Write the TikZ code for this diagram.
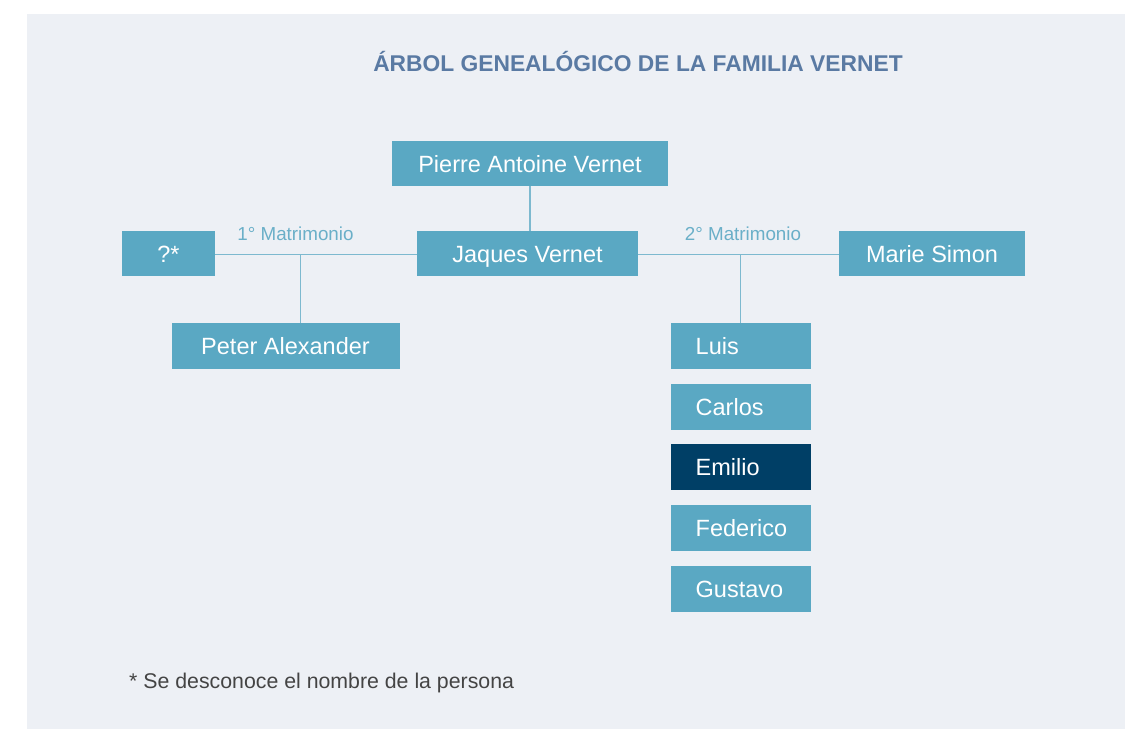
\documentclass[tikz,border=0pt]{standalone}
\usepackage{fontspec}
\setmainfont{Liberation Sans}
\definecolor{panel}{HTML}{EDF0F5}
\definecolor{boxc}{HTML}{5AA8C3}
\definecolor{darkc}{HTML}{003F66}
\definecolor{linec}{HTML}{7DB9CF}
\definecolor{labc}{HTML}{6AAFC8}
\definecolor{titlec}{HTML}{5A7AA3}
\definecolor{footc}{HTML}{444444}
\begin{document}
\begin{tikzpicture}[x=1pt,y=-1pt,
  person/.style={fill=boxc, text=white, inner sep=0pt, minimum height=45.5pt,
    font=\fontsize{23.5}{28}\selectfont, text height=17pt, text depth=0pt},
  child/.style={person, minimum width=140pt, text width=90pt, align=left, inner xsep=25pt},
  link/.style={draw=linec, line width=1.5pt},
  lab/.style={text=labc, inner sep=0pt, anchor=base, font=\fontsize{18.8}{22}\selectfont},
  titlestyle/.style={text=titlec, inner sep=0pt, anchor=base, font=\fontsize{22.8}{27}\selectfont\bfseries},
  foot/.style={text=footc, inner sep=0pt, anchor=base west, font=\fontsize{21.3}{25}\selectfont}]
\useasboundingbox (0,0) rectangle (1125,729);
\fill[panel] (27,14) rectangle (1125,729);

\node[titlestyle] (title) at (638,71) {ÁRBOL GENEALÓGICO DE LA FAMILIA VERNET};

\node[person, minimum width=276pt] (pierre) at (530,163.5) {Pierre Antoine Vernet};
\node[person, minimum width=221pt] (jaques) at (527.5,253.5) {Jaques Vernet};
\node[person, minimum width=93.5pt] (q) at (168.5,253.5) {?*};
\node[person, minimum width=228pt] (peter) at (285.5,346) {Peter Alexander};
\node[person, minimum width=186pt] (marie) at (932,253.5) {Marie Simon};

\node[child] (luis) at (740.7,346) {Luis};
\node[child] (carlos) at (740.7,407) {Carlos};
\node[child, fill=darkc] (emilio) at (740.7,467) {Emilio};
\node[child] (federico) at (740.7,528) {Federico};
\node[child] (gustavo) at (740.7,589) {Gustavo};

\coordinate (m1) at (300.3,254.5);
\coordinate (m2) at (740.7,254.5);

\draw[link] (pierre.south) -- (pierre.south |- jaques.north);
\draw[link] (q.east |- m1) -- (jaques.west |- m1);
\draw[link] (jaques.east |- m2) -- (marie.west |- m2);
\draw[link] (m1) -- (m1 |- peter.north);
\draw[link] (m2) -- (luis.north);

\node[lab] (l1) at (295.5,240) {1° Matrimonio};
\node[lab] (l2) at (743,240) {2° Matrimonio};

\node[foot] (note) at (129,688) {* Se desconoce el nombre de la persona};
\end{tikzpicture}
\end{document}
